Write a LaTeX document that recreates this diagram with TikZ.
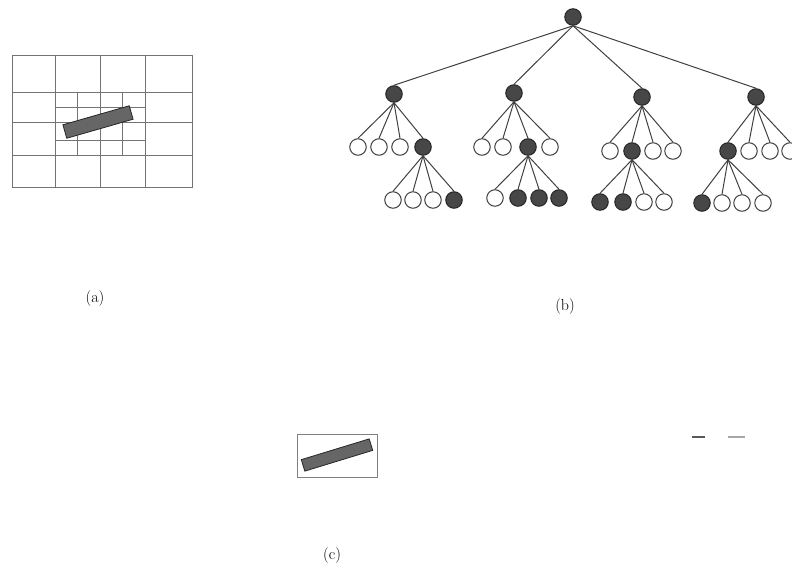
\documentclass[tikz,border=0pt]{standalone}
\begin{document}
\begin{tikzpicture}[x=1pt, y=-1pt,
  open/.style={circle, draw=black!75, line width=1pt, fill=white, minimum size=16.5pt, inner sep=0pt},
  full/.style={circle, draw=black!85, line width=1pt, fill=black!72, minimum size=16.5pt, inner sep=0pt},
  edge/.style={black!75, line width=1pt},
  cell/.style={black!55, line width=0.9pt},
  bar/.style={draw=black!85, line width=0.8pt, fill=black!60, inner sep=0pt},
  caption/.style={font=\fontsize{16}{18}\selectfont}]
\useasboundingbox (0,0) rectangle (792,573);

% (a) coarse grid, the middle block split once more
\draw[cell] (12,55) rectangle (192,187);
\draw[cell] (55,55) -- (55,187) (100,55) -- (100,187) (145,55) -- (145,187);
\draw[cell] (12,92) -- (192,92) (12,122) -- (192,122) (12,155) -- (192,155);
\draw[cell] (77,92) -- (77,155) (122,92) -- (122,155);
\draw[cell] (55,107) -- (145,107) (55,140) -- (145,140);
\node[bar, minimum width=69pt, minimum height=14pt, rotate=16] (obja) at (98,122) {};
\node[caption] (capa) at (95,299) {(a)};

% (b) tree
\node[full] (r) at (573,17) {};
\node[full] (p1) at (394,94) {};
\node[full] (p2) at (514,93) {};
\node[full] (p3) at (642,97) {};
\node[full] (p4) at (756,97) {};
\foreach \i in {1,...,4} \draw[edge] (r.south) -- (p\i.north);

\foreach \x/\s [count=\i] in {358/open, 379/open, 400/open, 423/full}
  {\node[\s] (p1c\i) at (\x,147) {}; \draw[edge] (p1.south) -- (p1c\i.north);}
\foreach \x/\s [count=\i] in {482/open, 503/open, 528/full, 550/open}
  {\node[\s] (p2c\i) at (\x,147) {}; \draw[edge] (p2.south) -- (p2c\i.north);}
\foreach \x/\s [count=\i] in {610/open, 632/full, 653/open, 673/open}
  {\node[\s] (p3c\i) at (\x,151) {}; \draw[edge] (p3.south) -- (p3c\i.north);}
\foreach \x/\s [count=\i] in {728/full, 749/open, 770/open, 790/open}
  {\node[\s] (p4c\i) at (\x,151) {}; \draw[edge] (p4.south) -- (p4c\i.north);}

\foreach \x/\s [count=\i] in {393/open, 413/open, 433/open, 454/full}
  {\node[\s] (q1c\i) at (\x,200) {}; \draw[edge] (p1c4.south) -- (q1c\i.north);}
\foreach \x/\s [count=\i] in {495/open, 518/full, 539/full, 559/full}
  {\node[\s] (q2c\i) at (\x,198) {}; \draw[edge] (p2c3.south) -- (q2c\i.north);}
\foreach \x/\s [count=\i] in {600/full, 623/full, 644/open, 664/open}
  {\node[\s] (q3c\i) at (\x,202) {}; \draw[edge] (p3c2.south) -- (q3c\i.north);}
\foreach \x/\s [count=\i] in {702/full, 722/open, 742/open, 763/open}
  {\node[\s] (q4c\i) at (\x,203) {}; \draw[edge] (p4c1.south) -- (q4c\i.north);}
\node[caption] (capb) at (565,307) {(b)};

% (c) object in its bounding box
\draw[black!50, line width=0.9pt] (297,434) rectangle (377,477);
\node[bar, minimum width=71pt, minimum height=12pt, rotate=17] (objc) at (337,455) {};
\draw[black!65, line width=2pt] (692,437) -- (705,437);
\draw[black!35, line width=1.5pt] (728,437) -- (745,437);
\node[caption] (capc) at (332,555) {(c)};
\end{tikzpicture}
\end{document}
